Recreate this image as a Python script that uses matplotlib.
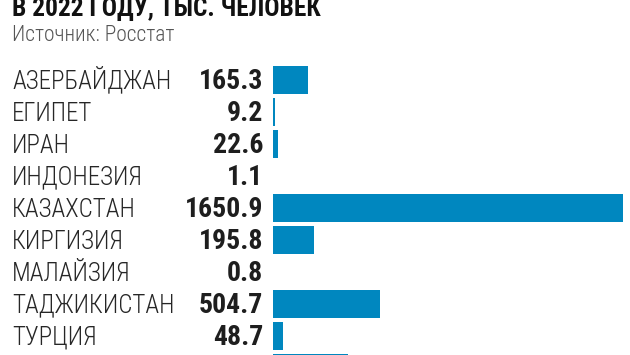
import matplotlib
matplotlib.use('Agg')
import matplotlib.pyplot as plt
from matplotlib.transforms import blended_transform_factory

countries = ['АЗЕРБАЙДЖАН', 'ЕГИПЕТ', 'ИРАН', 'ИНДОНЕЗИЯ', 'КАЗАХСТАН',
             'КИРГИЗИЯ', 'МАЛАЙЗИЯ', 'ТАДЖИКИСТАН', 'ТУРЦИЯ', 'УЗБЕКИСТАН']
values = [165.3, 9.2, 22.6, 1.1, 1650.9, 195.8, 0.8, 504.7, 48.7, 354.0]
labels = ['165.3', '9.2', '22.6', '1.1', '1650.9', '195.8', '0.8', '504.7', '48.7', '354.0']

title = 'В 2022 ГОДУ, ТЫС. ЧЕЛОВЕК'
source = 'Источник: Росстат'

W, H = 630, 355
fig = plt.figure(figsize=(W / 100, H / 100), dpi=100)
fig.patch.set_facecolor('white')

# bars start at x=273px, the longest one ends at ~622px; rows are 32px apart
x0, x1 = 273, 622.5
ax = fig.add_axes([x0 / W, 0, (x1 - x0) / W, 1])
ax.set_xlim(0, max(values))
ax.set_ylim((H - 80) / 32, -80 / 32)
ax.axis('off')

ypos = list(range(len(values)))
ax.barh(ypos, values, height=28 / 32, color='#0087bf', linewidth=0)

font = 'Roboto Condensed'
tr = blended_transform_factory(fig.transFigure, ax.transData)
for y, c, lab in zip(ypos, countries, labels):
    ax.text(12 / W, y + 0.27, c, transform=tr, ha='left', va='baseline',
            fontsize=18, family=font, fontweight='light', color='#262626', clip_on=False)
    ax.text(263 / W, y + 0.27, lab, transform=tr, ha='right', va='baseline',
            fontsize=20, family=font, fontweight='bold', color='#1e1e1e', clip_on=False)

fig.text(12 / W, 1 - 16 / H, title, ha='left', va='baseline', fontsize=18.3,
         family=font, fontweight='bold', color='#111111')
fig.text(12 / W, 1 - 41 / H, source, ha='left', va='baseline', fontsize=15.5,
         family=font, fontweight='light', color='#555555')

fig.savefig('out.png', dpi=100, facecolor='white')
